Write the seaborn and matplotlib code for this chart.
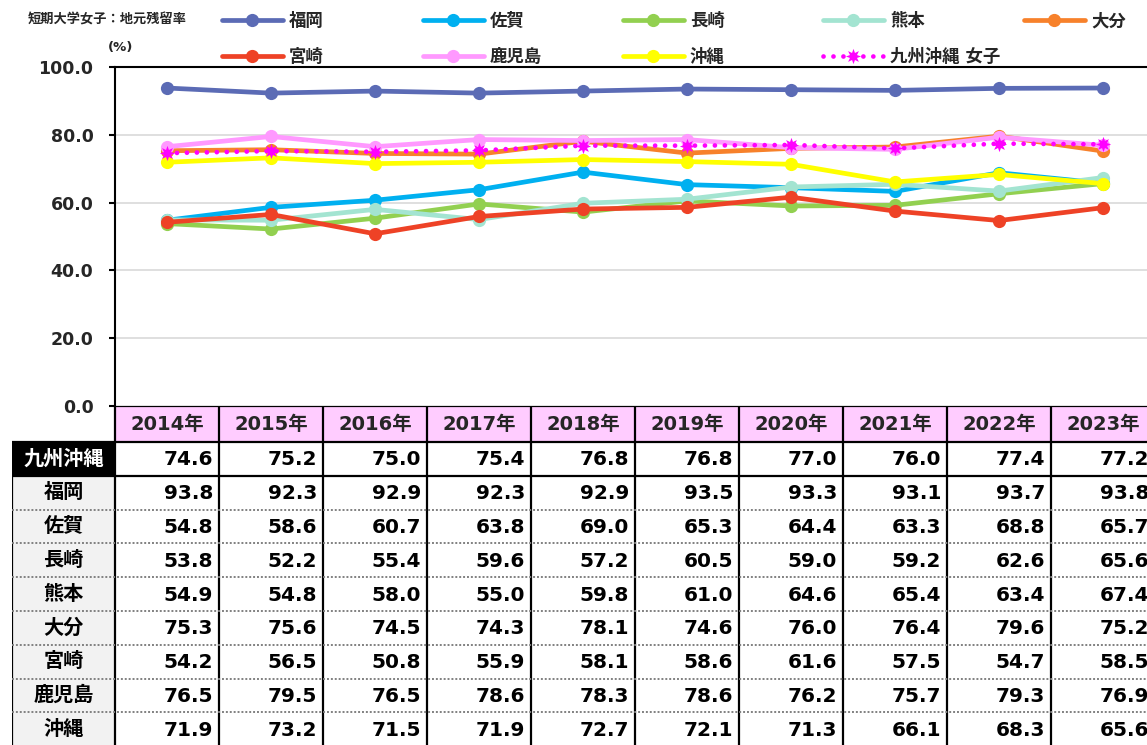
import matplotlib
matplotlib.use("Agg")
import matplotlib.pyplot as plt
from matplotlib.patches import Rectangle
from matplotlib.font_manager import FontProperties
import pandas as pd
import seaborn as sns

# データ (表の値)
years = [2014, 2015, 2016, 2017, 2018, 2019, 2020, 2021, 2022, 2023]
year_labels = [f"{y}年" for y in years]
regions = ["九州沖縄", "福岡", "佐賀", "長崎", "熊本", "大分", "宮崎", "鹿児島", "沖縄"]

kyushu = [74.6, 75.2, 75.0, 75.4, 76.8, 76.8, 77.0, 76.0, 77.4, 77.2]
fukuoka = [93.8, 92.3, 92.9, 92.3, 92.9, 93.5, 93.3, 93.1, 93.7, 93.8]
saga = [54.8, 58.6, 60.7, 63.8, 69.0, 65.3, 64.4, 63.3, 68.8, 65.7]
nagasaki = [53.8, 52.2, 55.4, 59.6, 57.2, 60.5, 59.0, 59.2, 62.6, 65.6]
kumamoto = [54.9, 54.8, 58.0, 55.0, 59.8, 61.0, 64.6, 65.4, 63.4, 67.4]
oita = [75.3, 75.6, 74.5, 74.3, 78.1, 74.6, 76.0, 76.4, 79.6, 75.2]
miyazaki = [54.2, 56.5, 50.8, 55.9, 58.1, 58.6, 61.6, 57.5, 54.7, 58.5]
kagoshima = [76.5, 79.5, 76.5, 78.6, 78.3, 78.6, 76.2, 75.7, 79.3, 76.9]
okinawa = [71.9, 73.2, 71.5, 71.9, 72.7, 72.1, 71.3, 66.1, 68.3, 65.6]

values = [kyushu, fukuoka, saga, nagasaki, kumamoto, oita, miyazaki, kagoshima, okinawa]

colors = {
    "福岡": "#5B6BB5", "佐賀": "#00B0F0", "長崎": "#92D050", "熊本": "#A3E4D1",
    "大分": "#F7812B", "宮崎": "#EE4226", "鹿児島": "#FF99FF", "沖縄": "#FFFF00",
    "九州沖縄": "#FF00FF",
}
draw_order = ["福岡", "佐賀", "長崎", "熊本", "大分", "宮崎", "鹿児島", "沖縄", "九州沖縄"]

df = pd.DataFrame([
    {"地域": r, "年": y, "残留率": v}
    for r, vals in zip(regions, values)
    for y, v in zip(years, vals)
])

sns.set_theme(style="white")
plt.rcParams['font.family'] = ['DejaVu Sans', 'Noto Sans CJK JP']
plt.rcParams['font.weight'] = 'bold'

W, H = 1147, 745
fig = plt.figure(figsize=(W / 100, H / 100), dpi=100)

# グラフ部分
ax_left, ax_right, ax_top, ax_bot = 115, 1155, 67, 406
ax = fig.add_axes([ax_left / W, (H - ax_bot) / H, (ax_right - ax_left) / W, (ax_bot - ax_top) / H])

for name in draw_order:
    sub = df[df["地域"] == name]
    if name == "九州沖縄":
        sns.lineplot(data=sub, x="年", y="残留率", ax=ax, color=colors[name],
                     label="九州沖縄 女子", marker=(8, 1, 0), markersize=11, markeredgewidth=0,
                     linewidth=3.4, linestyle=(0, (0.01, 2.1)), dash_capstyle="round", zorder=5)
    else:
        sns.lineplot(data=sub, x="年", y="残留率", ax=ax, color=colors[name],
                     label=name, marker="o", markersize=9.5, markeredgewidth=0,
                     linewidth=3.4, zorder=3)

handles, labels = ax.get_legend_handles_labels()
ax.get_legend().remove()

ax.set_xlim(2013.5, 2023.5)
ax.set_ylim(0, 100)
ax.set_yticks([0, 20, 40, 60, 80, 100])
ax.set_yticklabels([f"{t:.1f}" for t in [0, 20, 40, 60, 80, 100]], fontsize=12.5, fontweight='bold')
ax.set_xticks([])
ax.set_xlabel("")
ax.set_ylabel("")
ax.yaxis.grid(True, color="#D9D9D9", linewidth=1.2)
ax.set_axisbelow(True)
ax.tick_params(axis='y', direction='out', length=4.5, width=1.5, color='black', pad=11, left=True)
for s in ["left", "top"]:
    ax.spines[s].set_color("black")
    ax.spines[s].set_linewidth(1.5)
ax.spines["right"].set_visible(False)
ax.spines["bottom"].set_visible(False)

# 凡例 (5列)
lab_to_h = dict(zip(labels, handles))
legend_cols = [["福岡", "宮崎"], ["佐賀", "鹿児島"], ["長崎", "沖縄"], ["熊本", "九州沖縄 女子"], ["大分"]]
col_x = [222, 423, 623, 823, 1024]
prop = FontProperties(family=['DejaVu Sans', 'Noto Sans CJK JP'], weight='bold', size=12.5)
for cx, names in zip(col_x, legend_cols):
    fig.legend([lab_to_h[n] for n in names], names, loc='upper left',
               bbox_to_anchor=(cx / W, 1 - 12 / H), frameon=False, borderpad=0,
               borderaxespad=0, handlelength=3.5, handletextpad=0.35,
               labelspacing=1.05, prop=prop)

fig.text(28 / W, 1 - 20 / H, "短期大学女子：地元残留率", fontsize=9.5, fontweight='bold',
         va='center', ha='left')
fig.text(108 / W, 1 - 48 / H, "(%)", fontsize=9.5, fontweight='bold', va='center', ha='left')

# 表部分
tab_left, tab_top = 12, 406
label_w, col_w = 103, 104
head_h, row_h = 36, 33.8
tab_w = label_w + col_w * len(years)
tab_h = head_h + row_h * len(regions)
tax = fig.add_axes([tab_left / W, (H - tab_top - tab_h) / H, tab_w / W, tab_h / H])
tax.set_xlim(0, tab_w)
tax.set_ylim(tab_h, 0)
tax.axis("off")

for i, yl in enumerate(year_labels):
    x0 = label_w + i * col_w
    tax.add_patch(Rectangle((x0, 0), col_w, head_h, facecolor="#FFCCFF", edgecolor="none"))
    tax.text(x0 + col_w / 2, head_h / 2 + 1, yl, ha='center', va='center', fontsize=14, fontweight='bold')

for r, (name, vals) in enumerate(zip(regions, values)):
    y0 = head_h + r * row_h
    fc = "black" if r == 0 else "#F2F2F2"
    tc = "white" if r == 0 else "black"
    tax.add_patch(Rectangle((0, y0), label_w, row_h, facecolor=fc, edgecolor="none"))
    tax.text(label_w / 2, y0 + row_h / 2, name, ha='center', va='center', fontsize=14.5,
             fontweight='bold', color=tc)
    for i, v in enumerate(vals):
        x1 = label_w + (i + 1) * col_w
        tax.text(x1 - 6, y0 + row_h / 2 + 1, f"{v:.1f}", ha='right', va='center',
                 fontsize=14.5, fontweight='bold', color='black')

# 罫線
for i in range(len(years) + 1):
    tax.vlines(label_w + i * col_w, 0, tab_h, color='black', linewidth=1.6)
tax.vlines(0, head_h, tab_h, color='black', linewidth=1.6)
tax.hlines(0, label_w, tab_w, color='black', linewidth=1.6)
tax.hlines([head_h, head_h + row_h], 0, tab_w, color='black', linewidth=1.6)
for r in range(2, len(regions)):
    tax.hlines(head_h + r * row_h, 0, tab_w, color='#808080', linewidth=1.4, linestyle=(0, (1, 1)))
tax.hlines(tab_h, 0, tab_w, color='black', linewidth=1.6)

fig.savefig("out.png", dpi=100)
